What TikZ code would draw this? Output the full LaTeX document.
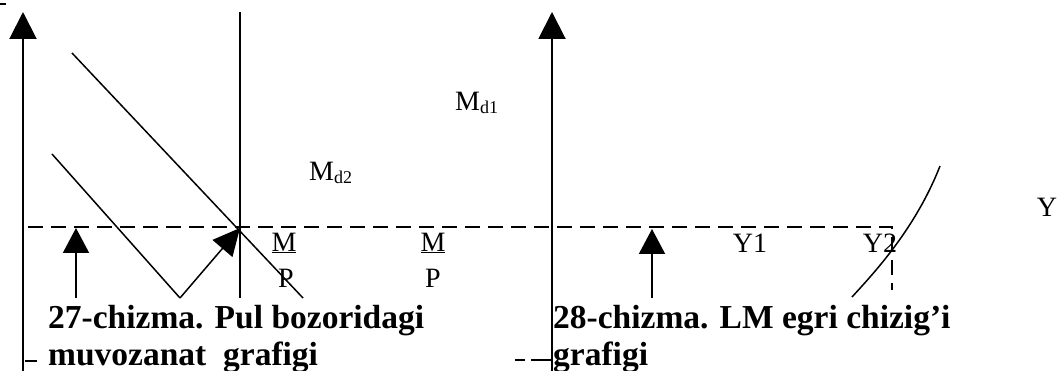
\documentclass[tikz,border=0pt]{standalone}
\usepackage{fontspec}
\setmainfont{Liberation Serif}
\usetikzlibrary{arrows.meta}
\begin{document}
\begin{tikzpicture}[x=1pt,y=-1pt,
  axisline/.style={line width=2pt,-{Triangle[width=27pt,length=27pt]}},
  smallarrow/.style={line width=2pt,-{Triangle[width=26pt,length=25pt]}},
  diag/.style={line width=1.5pt},
  dashline/.style={line width=2pt,dash pattern=on 15pt off 8pt},
  lbl/.style={inner sep=0pt,font=\fontsize{28}{30}\selectfont},
  captxt/.style={inner sep=0pt,anchor=base west,font=\bfseries\fontsize{33.5}{37}\selectfont}]
\useasboundingbox (0,0) rectangle (1057,371);
% coordinates
\coordinate (ax1b) at (23,371);
\coordinate (ax1t) at (23,12);
\coordinate (ax2b) at (552,371);
\coordinate (ax2t) at (552,12);
\coordinate (vt) at (240,12);
\coordinate (vb) at (240,298);
\coordinate (eq) at (240,228);
\coordinate (d1s) at (72,53);
\coordinate (d1e) at (303,298);
\coordinate (d2s) at (52,154);
\coordinate (d2e) at (180,298);
\coordinate (hl) at (28,227);
\coordinate (hr) at (892,227);
\coordinate (hv) at (892,290);
\coordinate (ua1b) at (76,298);
\coordinate (ua1t) at (76,228);
\coordinate (ua2b) at (652,298);
\coordinate (ua2t) at (652,229);
\coordinate (lmb) at (852,297);
\coordinate (lmc1) at (872,275);
\coordinate (lmc2) at (915,230);
\coordinate (lmt) at (940,166);
% axes
\draw[line width=2pt] (0,4) -- (6,4);
\draw[axisline] (ax1b) -- (ax1t);
\draw[axisline] (ax2b) -- (ax2t);
\draw[line width=2pt] (vt) -- (vb);
% demand lines
\draw[diag] (d1s) -- (d1e);
\draw[diag] (d2s) -- (d2e);
\draw[diag,-{Triangle[width=26pt,length=27pt]}] (d2e) -- (eq);
% dashed
\draw[dashline] (hl) -- (hr) -- (hv);
% small arrows
\draw[smallarrow] (ua1b) -- (ua1t);
\draw[smallarrow] (ua2b) -- (ua2t);
% LM curve
\draw[diag] (lmb) .. controls (lmc1) and (lmc2) .. (lmt);
% bottom fragments
\draw[line width=2pt] (25,361) -- (37,361);
\draw[line width=2pt] (515,360) -- (525,360);
\draw[line width=2pt] (531,360) -- (551,360);
% labels
\node[lbl,anchor=west] (md1) at (455,103) {M\raisebox{-3pt}{\fontsize{18}{18}\selectfont d1}};
\node[lbl,anchor=west] (md2) at (309,173) {M\raisebox{-3pt}{\fontsize{18}{18}\selectfont d2}};
\node[lbl] (m1) at (284,243) {\underline{M}};
\node[lbl] (p1) at (286,278) {P};
\node[lbl] (m2) at (433,243) {\underline{M}};
\node[lbl] (p2) at (433,278) {P};
\node[lbl] (y1) at (750,243) {Y1};
\node[lbl] (y2) at (880,243) {Y2};
\node[lbl] (y) at (1047,207) {Y};
% captions
\node[captxt] (c1a) at (48,328) {27-chizma. Pul bozoridagi};
\node[captxt] (c1b) at (48,365) {muvozanat\ \ grafigi};
\node[captxt] (c2a) at (553,328) {28-chizma. LM egri chizig’i};
\node[captxt] (c2b) at (553,365) {grafigi};
\end{tikzpicture}
\end{document}
